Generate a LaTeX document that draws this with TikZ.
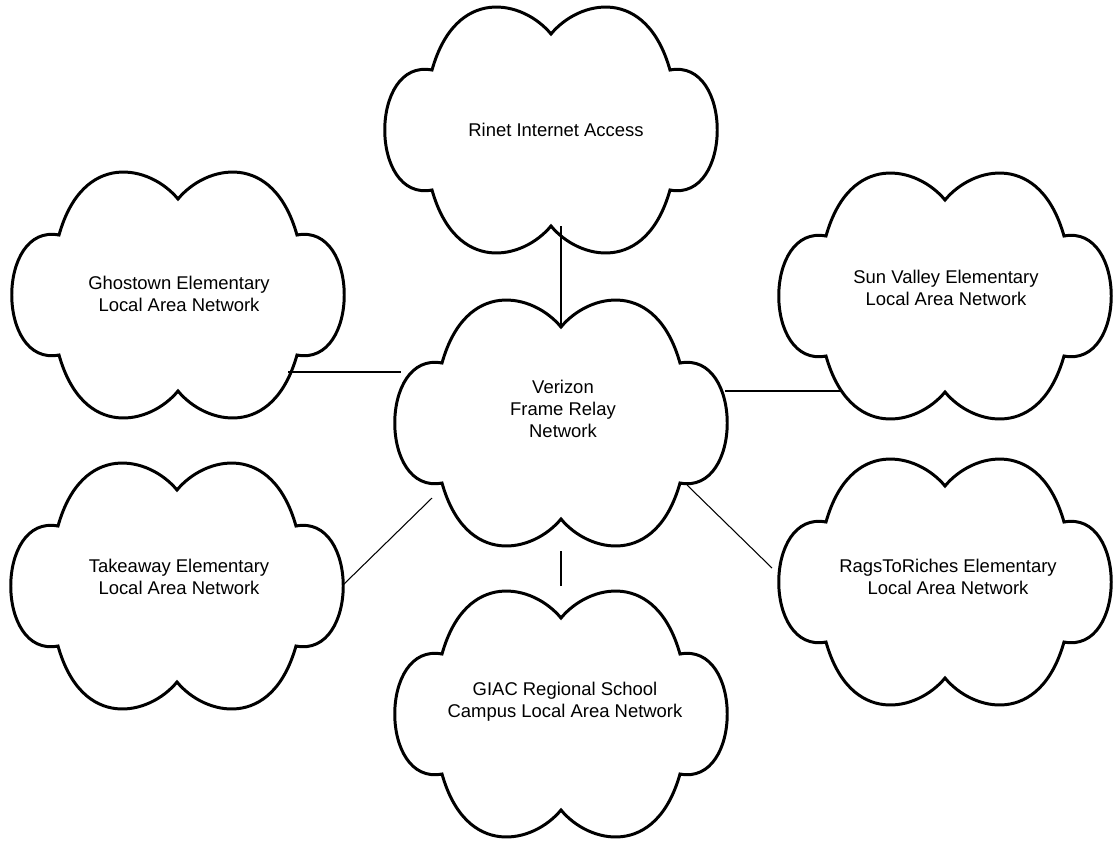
\documentclass[tikz,border=0pt]{standalone}
\usepackage{fontspec}
\setmainfont{Liberation Sans}
\usetikzlibrary{calc}

% cloud outline round the text node #1, moved by (#2,#3)
\newcommand{\lancloud}[3]{%
  \draw[cloudline, shift={(#1)}, shift={(#2,#3)}] (0,-96)
    .. controls (28,-130) and (95,-145) .. (119,-60)
    .. controls (182,-72) and (182,72) .. (119,60)
    .. controls (95,145) and (28,130) .. (0,96)
    .. controls (-28,130) and (-95,145) .. (-119,60)
    .. controls (-182,72) and (-182,-72) .. (-119,-60)
    .. controls (-95,-145) and (-28,-130) .. (0,-96) -- cycle;}

\begin{document}
\begin{tikzpicture}[x=0.02cm, y=-0.02cm,
    cloudline/.style={line width=1.7pt, line join=miter},
    lan/.style={align=center, inner sep=0pt, font=\fontsize{10.5}{12.5}\selectfont},
    link/.style={line width=0.6pt}]
    \useasboundingbox (0,0) rectangle (1113,840);
    % networks
    \node[lan] (rinet) at (556,130) {Rinet Internet Access};
    \node[lan] (ghost) at (179,294) {Ghostown Elementary\\Local Area Network};
    \node[lan] (sun) at (946,288) {Sun Valley Elementary\\Local Area Network};
    \node[lan] (verizon) at (563,409) {Verizon\\Frame Relay\\Network};
    \node[lan] (take) at (179,577) {Takeaway Elementary\\Local Area Network};
    \node[lan] (rags) at (948,577) {RagsToRiches Elementary\\Local Area Network};
    \node[lan] (giac) at (565,702) {GIAC Regional School\\Campus Local Area Network};
    % clouds
    \lancloud{rinet}{-5}{0}
    \lancloud{ghost}{-1}{1}
    \lancloud{sun}{-1}{8}
    \lancloud{verizon}{-2}{14}
    \lancloud{take}{-2}{9}
    \lancloud{rags}{-3}{5}
    \lancloud{giac}{-4}{12}
    % links to the frame relay
    \draw[link] ($(rinet)+(5,96)$) -- ($(verizon)+(-2,-82)$);
    \draw[link] ($(ghost)+(109,78)$) -- ($(verizon)+(-162,-37)$);
    \draw[link] ($(sun)+(-103,103)$) -- ($(verizon)+(162,-18)$);
    \draw[link] ($(take)+(164,8)$) -- ($(verizon)+(-131,89)$);
    \draw[link] ($(rags)+(-176,-9)$) -- ($(verizon)+(124,76)$);
    \draw[link] ($(giac)+(-4,-116)$) -- ($(verizon)+(-2,142)$);
\end{tikzpicture}
\end{document}
